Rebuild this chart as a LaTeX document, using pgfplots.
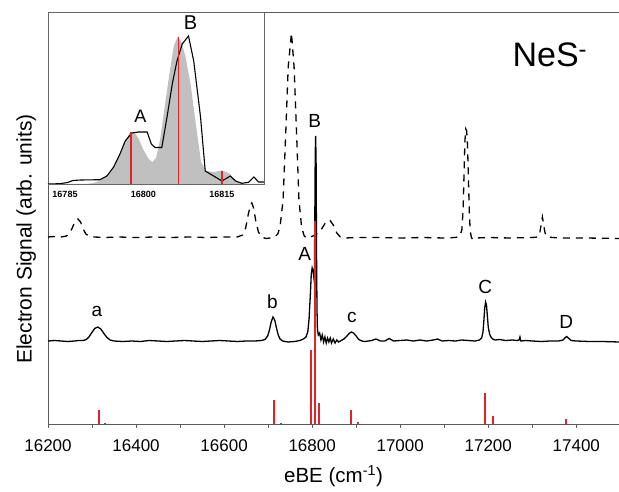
\documentclass[border=0pt]{standalone}
\usepackage{pgfplots}
\pgfplotsset{compat=1.18}
\usepackage{fontspec}
\setmainfont{Liberation Sans}
\definecolor{stick}{RGB}{225,35,40}
\definecolor{simgray}{RGB}{192,192,192}
\definecolor{axgray}{RGB}{90,90,90}
\begin{document}
\begin{tikzpicture}
\path[use as bounding box] (-48pt,-67pt) rectangle (571pt,424pt);
\begin{axis}[
  at={(0pt,0pt)}, anchor=south west,
  width=571pt, height=412pt, scale only axis,
  xmin=16200, xmax=17497, ymin=0, ymax=412,
  axis x line=box, axis y line=left,
  x axis line style={-, axgray, line width=0.9pt},
  y axis line style={-, axgray, line width=0.9pt},
  xtick={16200,16400,...,17400},
  minor xtick={16300,16500,...,17500},
  xtick pos=bottom, tick align=outside,
  major tick length=4pt, minor tick length=4pt,
  tick style={axgray, line width=0.9pt},
  ytick=\empty,
  scaled x ticks=false,
  unbounded coords=jump,
  /pgf/number format/assume math mode=true,
  x tick label style={/pgf/number format/1000 sep={}, font=\fontsize{17}{20}\selectfont, yshift=-8pt},
  xlabel={eBE (cm\textsuperscript{-1})},
  xlabel style={at={(axis description cs:0.5,-0.143)}, anchor=base, font=\fontsize{20.5}{24}\selectfont},
  ylabel={Electron Signal (arb. units)},
  ylabel style={at={(axis description cs:-0.0286,0.449)}, anchor=base, font=\fontsize{21}{24}\selectfont},
]
% dashed (upper) spectrum
\addplot[black, line width=1.3pt, dash pattern=on 7pt off 6pt] coordinates {
(16200,187)(16215,187.5)(16230,187)(16242,188)(16250,191)(16256,197)(16262,203)(16268,205)(16274,202)(16280,195)(16286,190)(16293,188)(16305,187)(16330,186.5)(16360,187)(16400,186.5)(16440,187)(16480,186.5)(16520,187)(16560,186.5)(16600,187)(16630,187)(16642,189)(16649,196)(16655,210)(16660,219)(16663,221)(16667,216)(16672,203)(16678,192)(16685,187)(16695,185.5)(16705,186)(16715,187)(16722,190)(16727,197)(16734,224)(16740,291)(16745.6,357)(16753,391)(16759,357)(16764.6,291)(16770,224)(16776,197)(16782,188)(16788,186)(16795,187)(16802,188)(16810,190)(16820,194)(16830,201)(16840,204)(16848,199)(16856,191)(16864,187)(16875,186)(16900,186.5)(16950,186.5)(17000,186)(17050,186.5)(17100,186)(17125,186.5)(17135,187.5)(17140,194)(17143,215)(17145,250)(17147,283)(17149,295)(17151,293)(17153,278)(17155,245)(17157,212)(17159,193)(17162,186)(17166,184.5)(17172,186)(17200,186.5)(17250,186)(17300,186.5)(17312,187)(17317,191)(17320,199)(17323,207)(17326,199)(17329,191)(17334,187)(17360,186)(17420,186)(17497,185.5)
};
% solid (lower) spectrum
\addplot[black, line width=1.3pt] coordinates {
(16200,83)(16215,83.5)(16230,83)(16245,82.5)(16260,83)(16270,83.5)(16280,83.5)(16287,84.5)(16293,87)(16299,91)(16306,95.5)(16313,97)(16320,95)(16327,90.5)(16334,86.5)(16341,84)(16350,83)(16370,82.5)(16390,83)(16410,82.5)(16430,83.5)(16450,83)(16470,82.5)(16490,83)(16510,83.5)(16530,83)(16550,82.5)(16570,83)(16590,83.5)(16610,83)(16630,82.5)(16650,83)(16670,83)(16685,83.5)(16693,84.5)(16699,88)(16703,94)(16707,102)(16711,107)(16715,104)(16719,96)(16723,89)(16727,85)(16733,83)(16745,82)(16760,82.5)(16772,83.5)(16780,85)(16786,87)(16790,92)(16793,105)(16796,130)(16798,150)(16800,156)(16802,153)(16804,146)(16805,150)(16806,200)(16807,270)(16808,288)(16809,260)(16810,170)(16811,115)(16812,95)(16814,89)(16817,91)(16820,84)(16823,89)(16826,82)(16829,87)(16832,81)(16835,86)(16838,82)(16841,86)(16844,81)(16848,85)(16852,81)(16856,84)(16860,82)(16866,83.5)(16872,85)(16878,87.5)(16884,90.5)(16889,92)(16894,91)(16900,88)(16906,84.5)(16913,83)(16920,82.5)(16935,83.5)(16945,85)(16955,83)(16965,83)(16975,85.5)(16985,83)(17000,83.5)(17015,84)(17030,83)(17045,84)(17060,83)(17075,84)(17085,85)(17095,83)(17110,83.5)(17125,83)(17140,84)(17155,83.5)(17170,83)(17180,84)(17185,86)(17188,92)(17190,103)(17192,116)(17194,122)(17196,119)(17198,108)(17200,97)(17203,90)(17206,87)(17210,85)(17216,84)(17225,84.5)(17240,83.5)(17255,84)(17265,83.5)(17270,84)(17272,87)(17274,83)(17285,83.5)(17300,83)(17320,82.5)(17340,83)(17360,83)(17370,84)(17375,86.5)(17378,87.5)(17382,86)(17388,83.5)(17400,83)(17430,82.5)(17460,82.5)(17497,82)
};
% calculated stick spectrum
\addplot[stick, line width=1.8pt, mark=none] coordinates {
(16316,0)(16316,14) (16316,nan)
(16330,0)(16330,1.5) (16330,nan)
(16713,0)(16713,24) (16713,nan)
(16729,0)(16729,1.5) (16729,nan)
(16797,0)(16797,74) (16797,nan)
(16807,0)(16807,203) (16807,nan)
(16816,0)(16816,21) (16816,nan)
(16888,0)(16888,14) (16888,nan)
(16905,0)(16905,2) (16905,nan)
(17192,0)(17192,31) (17192,nan)
(17211,0)(17211,8) (17211,nan)
(17377,0)(17377,5)
};
\node[font=\fontsize{19}{22}\selectfont] at (axis cs:16311,113) {a};
\node[font=\fontsize{19}{22}\selectfont] at (axis cs:16710,122) {b};
\node[font=\fontsize{19}{22}\selectfont] at (axis cs:16783,170) {A};
\node[font=\fontsize{19}{22}\selectfont] at (axis cs:16806,303) {B};
\node[font=\fontsize{19}{22}\selectfont] at (axis cs:16890,107) {c};
\node[font=\fontsize{19}{22}\selectfont] at (axis cs:17193,137) {C};
\node[font=\fontsize{19}{22}\selectfont] at (axis cs:17377,102) {D};
\node[font=\fontsize{34}{38}\selectfont] at (axis cs:17340,369) {NeS\textsuperscript{-}};
\end{axis}
% inset
\begin{axis}[
  at={(0pt,240pt)}, anchor=south west,
  width=216pt, height=172pt, scale only axis,
  xmin=16781.75, xmax=16823.03, ymin=0, ymax=172,
  axis line style={black!60, line width=0.8pt},
  xtick={16785,16800,16815}, ytick=\empty,
  major tick length=0pt,
  scaled x ticks=false,
  unbounded coords=jump,
  /pgf/number format/assume math mode=true,
  x tick label style={/pgf/number format/1000 sep={}, /pgf/number format/fixed, font=\bfseries\fontsize{9}{10}\selectfont, yshift=-4pt},
]
\addplot[fill=simgray, draw=none] coordinates {
(16781.75,0)(16789,0)(16790.5,1)(16792,4)(16793.5,11)(16795,24)(16796.3,40)(16797.3,51)(16798.2,52)(16799,46)(16800,34)(16801,25)(16801.7,22)(16802.4,26)(16803.2,45)(16804,75)(16805,112)(16805.8,138)(16806.5,147)(16807.2,143)(16808,128)(16809,100)(16810,60)(16811,22)(16812,13)(16813.5,12)(16815,13.5)(16816.3,11)(16817.3,5)(16818.3,1)(16819,0)(16823.03,0)
} \closedcycle;
\addplot[black, line width=1.1pt] coordinates {
(16781.75,0)(16784,0.3)(16785.5,1.5)(16786.5,3.5)(16788,4)(16791.7,4.3)(16793,8)(16794.3,17)(16795.5,30)(16796.5,43)(16797.8,51)(16799,52)(16800.7,52)(16801.5,40)(16802.2,36.5)(16803.5,36.5)(16804.5,67)(16805.5,100)(16806.4,123)(16807.4,140)(16808.6,148)(16809.6,123)(16810.9,67)(16811.8,13)(16813.4,8)(16815,3)(16816.6,8)(16817.6,3)(16818.8,0.7)(16820.1,1.7)(16821.1,7)(16822,2)(16823.03,2)
};
\addplot[stick, line width=1.3pt, mark=none] coordinates {
(16797.6,0)(16797.6,52) (16797.6,nan)
(16806.7,0)(16806.7,147) (16806.7,nan)
(16815,0)(16815,13)
};
\node[font=\fontsize{18}{21}\selectfont] at (axis cs:16799.4,68) {A};
\node[font=\fontsize{20}{23}\selectfont] at (axis cs:16809,161) {B};
\end{axis}
\end{tikzpicture}
\end{document}
